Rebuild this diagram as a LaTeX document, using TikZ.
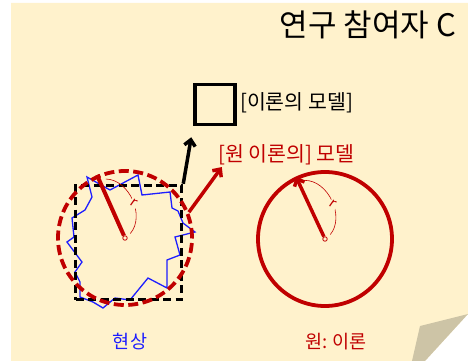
\documentclass[tikz,border=0pt]{standalone}
\usepackage{fontspec}
\setmainfont{Noto Sans CJK KR}
\usetikzlibrary{positioning,arrows.meta,calc}
\definecolor{notebg}{HTML}{FFF2CC}
\definecolor{foldgray}{HTML}{CDC4A6}
\definecolor{modelred}{HTML}{C00000}
\definecolor{phenblue}{HTML}{1E1EFF}

\begin{document}
\begin{tikzpicture}[x=1pt, y=-1pt,
    modelbox/.style={rectangle, draw, line width=3.8pt, minimum size=40pt, inner sep=0pt},
    phenbox/.style={rectangle, draw, line width=3.5pt, dash pattern=on 8pt off 4.5pt, minimum width=106pt, minimum height=114pt, inner sep=0pt},
    theory/.style={circle, draw=modelred, line width=3.8pt, minimum size=134pt, inner sep=0pt},
    hub/.style={circle, draw=modelred, fill=notebg, line width=0.8pt, minimum size=4.5pt, inner sep=0pt},
    radius/.style={modelred, line width=4pt},
    arrow/.style={-{Straight Barb[length=6pt, width=11pt]}, line width=3.5pt},
    arc/.style={modelred, line width=0.6pt},
    rlbl/.style={fill=notebg, inner sep=1.5pt, text=modelred, font=\fontsize{14}{16}\selectfont, rotate=-35},
    lbl/.style={font=\fontsize{20.5}{24}\selectfont, inner sep=0pt}
]

% Page with folded corner
\useasboundingbox (0,0) rectangle (468,361);
\fill[notebg] (11,3) -- (468,3) -- (468,314) -- (425,361) -- (11,361) -- cycle;
\fill[foldgray] (420,326) -- (468,314) -- (425,361) -- (412,361) -- cycle;

% Title
\node[anchor=east, font=\fontsize{31}{34}\selectfont, inner sep=0pt] (title) at (456,25) {연구 참여자 C};

% Phenomenon (blue outline)
\draw[phenblue, line width=1.3pt] (87,177) -- (110,190) -- (138,175) -- (142,195) -- (170,192)
  -- (172,208) -- (178,211) -- (183,223) -- (195,232) -- (175,237) -- (180,255) -- (167,260)
  -- (167,288) -- (148,278) -- (130,300) -- (115,298) -- (103,308) -- (93,302) -- (80,297)
  -- (80,282) -- (75,272) -- (82,262) -- (67,242) -- (74,237) -- (72,218) -- (85,210)
  -- (92,197) -- cycle;

% Models
\node[modelbox] (model) at (215,104.5) {};
\node[lbl, anchor=west] (model-lbl) at (240,103) {[이론의 모델]};
\node[phenbox] (phen) at (128.5,242.5) {};
\node[theory, dash pattern=on 10pt off 4.5pt] (orig-circ) at (125,238) {};
\node[theory] (circ) at (325,239) {};
\node[lbl, anchor=west, text=modelred] (orig-lbl) at (218,155) {[원 이론의] 모델};

% Radii
\node[hub] (orig-hub) at (orig-circ.center) {};
\node[hub] (hub) at (circ.center) {};
\draw[radius] (orig-hub) -- (orig-circ.114);
\draw[radius, arrow] (hub) -- (circ.115);

% Radius brackets
\coordinate (orig-a) at ($(orig-circ.center)!0.9!(orig-circ.108)$);
\coordinate (orig-b) at ($(orig-circ.center)!0.1!(orig-circ.40)$);
\draw[arc] (orig-a) to[bend left=65] node[pos=0.55, rlbl] {r} (orig-b);
\coordinate (circ-a) at ($(circ.center)!0.9!(circ.109)$);
\coordinate (circ-b) at ($(circ.center)!0.1!(circ.40)$);
\draw[arc] (circ-a) to[bend left=65] node[pos=0.55, rlbl] {r} (circ-b);

% Arrows to models
\draw[arrow, shorten >=11pt] (phen.north east) -- (model.south west);
\draw[arrow, modelred, shorten >=2pt] (orig-circ.22) -- ($(orig-lbl.south west)+(5,0)$);

% Bottom labels
\node[font=\fontsize{18.5}{21}\selectfont, text=phenblue, inner sep=0pt] (phen-lbl) at (130,342) {현상};
\node[font=\fontsize{18.5}{21}\selectfont, text=modelred, inner sep=0pt] (circ-lbl) at (336,342) {원: 이론};

\end{tikzpicture}
\end{document}
